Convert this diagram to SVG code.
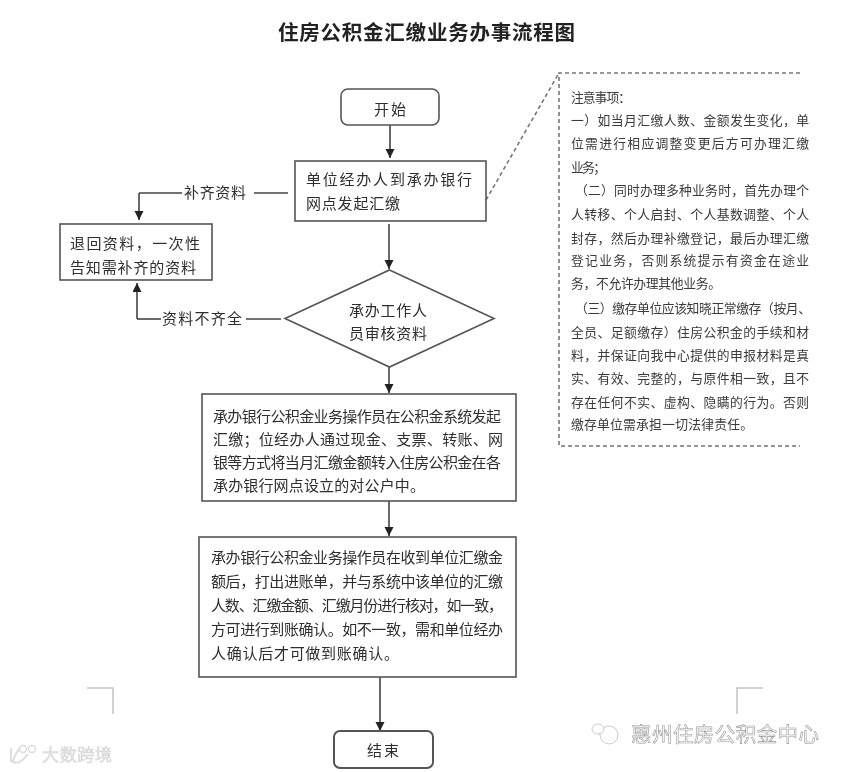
<svg xmlns="http://www.w3.org/2000/svg" width="846" height="772" viewBox="0 0 846 772">
<style>
text{font-family:"Noto Sans CJK SC","Liberation Sans",sans-serif;fill:#2e2e2e;filter:url(#s)}
.b{fill:#fff;stroke:#555;stroke-width:1.6}
.l{fill:none;stroke:#444;stroke-width:1.6}
.t{font-size:15px}
.n{font-size:12.8px;fill:#3a3a3a}
.w{fill:#fff;stroke:#a8a8a8;stroke-width:.6}
.d{fill:none;stroke:#777;stroke-width:1.6;stroke-dasharray:4 3}
.c{fill:none;stroke:#c4c4c4;stroke-width:1.5}
</style>
<defs>
<filter id="s" x="-5%" y="-20%" width="110%" height="140%"><feGaussianBlur stdDeviation="0.35"/></filter>
<marker id="a" markerUnits="userSpaceOnUse" markerWidth="10" markerHeight="10" refX="9" refY="4.5" orient="auto"><path d="M0 0L9 4.5L0 9z" fill="#222"/></marker></defs>
<rect width="846" height="772" fill="#fff"/>
<text x="278" y="40" font-size="20.500" font-weight="700" style="fill:#222" textLength="297" lengthAdjust="spacing">住房公积金汇缴业务办事流程图</text>
<g id="connectors">
<path class="l" marker-end="url(#a)" d="M390 125V158"/>
<path class="l" marker-end="url(#a)" d="M389 224V269"/>
<path class="l" marker-end="url(#a)" d="M389 367V393"/>
<path class="l" marker-end="url(#a)" d="M389 501V536"/>
<path class="l" marker-end="url(#a)" d="M380 677V731"/>
<path class="l" d="M288 193H254M182 193H139"/>
<path class="l" marker-end="url(#a)" d="M139 193V220"/>
<path class="l" d="M281 319H246"/>
<path class="l" d="M161 319H137"/>
<path class="l" marker-end="url(#a)" d="M137 319V283"/>
<path class="d" d="M486 200L559 73"/>
<text class="t" x="184" y="198" textLength="62">补齐资料</text>
<text class="t" x="162" y="324" textLength="80">资料不齐全</text>
</g>
<g id="start"><rect class="b" x="341" y="89" width="98" height="36" rx="7"/><text class="t" x="374" y="115" textLength="32">开始</text></g>
<g id="initiate"><rect class="b" x="295" y="161" width="191" height="60"/><text class="t" x="306" y="185" textLength="166">单位经办人到承办银行</text><text class="t" x="306" y="209" textLength="94">网点发起汇缴</text></g>
<g id="return"><rect class="b" x="60" y="224" width="152" height="56"/><text class="t" x="70" y="249" textLength="130">退回资料，一次性</text><text class="t" x="70" y="273" textLength="126">告知需补齐的资料</text></g>
<g id="review"><path class="b" d="M389.500 270L494 318.500L389.500 367L285 318.500z"/><text class="t" x="349" y="316" textLength="78">承办工作人</text><text class="t" x="349" y="339" textLength="78">员审核资料</text></g>
<g id="transfer"><rect class="b" x="202" y="394" width="314" height="107"/>
<text class="t" x="213" y="422" textLength="288">承办银行公积金业务操作员在公积金系统发起</text>
<text class="t" x="213" y="445" textLength="290">汇缴；位经办人通过现金、支票、转账、网</text>
<text class="t" x="213" y="468" textLength="288">银等方式将当月汇缴金额转入住房公积金在各</text>
<text class="t" x="213" y="491" textLength="212">承办银行网点设立的对公户中。</text></g>
<g id="confirm"><rect class="b" x="199" y="537" width="317" height="140"/>
<text class="t" x="211" y="563" textLength="292">承办银行公积金业务操作员在收到单位汇缴金</text>
<text class="t" x="211" y="587" textLength="292">额后，打出进账单，并与系统中该单位的汇缴</text>
<text class="t" x="211" y="611" textLength="292">人数、汇缴金额、汇缴月份进行核对，如一致，</text>
<text class="t" x="211" y="635" textLength="292">方可进行到账确认。如不一致，需和单位经办</text>
<text class="t" x="211" y="659" textLength="188">人确认后才可做到账确认。</text></g>
<g id="end"><rect class="b" x="334" y="731" width="99" height="37" rx="6" style="stroke-width:2"/><text class="t" x="367" y="756" textLength="32">结束</text></g>
<g id="notes">
<path class="d" d="M800 73H559V446H800"/>
<text class="n" x="571" y="101.500" textLength="60">注意事项：</text>
<text class="n" x="571" y="124.500" textLength="238">一）如当月汇缴人数、金额发生变化，单</text>
<text class="n" x="571" y="147.500" textLength="238">位需进行相应调整变更后方可办理汇缴</text>
<text class="n" x="571" y="171.500" textLength="35">业务；</text>
<text class="n" x="575" y="195" textLength="234">（二）同时办理多种业务时，首先办理个</text>
<text class="n" x="571" y="218.500" textLength="238">人转移、个人启封、个人基数调整、个人</text>
<text class="n" x="571" y="242.500" textLength="238">封存，然后办理补缴登记，最后办理汇缴</text>
<text class="n" x="571" y="264.500" textLength="238">登记业务，否则系统提示有资金在途业</text>
<text class="n" x="571" y="287.500" textLength="150">务，不允许办理其他业务。</text>
<text class="n" x="575" y="312.500" textLength="236">（三）缴存单位应该知晓正常缴存（按月、</text>
<text class="n" x="571" y="336.500" textLength="238">全员、足额缴存）住房公积金的手续和材</text>
<text class="n" x="571" y="359.500" textLength="238">料，并保证向我中心提供的申报材料是真</text>
<text class="n" x="571" y="382.500" textLength="238">实、有效、完整的，与原件相一致，且不</text>
<text class="n" x="571" y="406.500" textLength="238">存在任何不实、虚构、隐瞒的行为。否则</text>
<text class="n" x="571" y="428.500" textLength="182">缴存单位需承担一切法律责任。</text>
</g>
<path class="c" d="M87 688H113V714"/>
<path class="c" d="M763 688H737V714"/>
<g id="wm1"><circle class="w" cx="609" cy="735" r="9"/><ellipse class="w" cx="598" cy="729" rx="6" ry="5"/><text class="w" x="631" y="742" font-size="20.500" textLength="188" style="fill:#fff;stroke:#999">惠州住房公积金中心</text></g>
<g id="wm2"><path class="w" style="stroke:#ddd;stroke-width:2;fill:none" d="M11 748V762M20 748Q14 755 13 762Q20 765 28 754"/><circle class="w" cx="23" cy="749" r="3.500" style="stroke:#ddd;stroke-width:1.500"/><circle class="w" cx="32" cy="749" r="3.500" style="stroke:#ddd;stroke-width:1.500"/><text x="42" y="761" font-size="17" textLength="70" style="fill:#e4e4e4;stroke:#d4d4d4;stroke-width:.5">大数跨境</text></g>
</svg>
